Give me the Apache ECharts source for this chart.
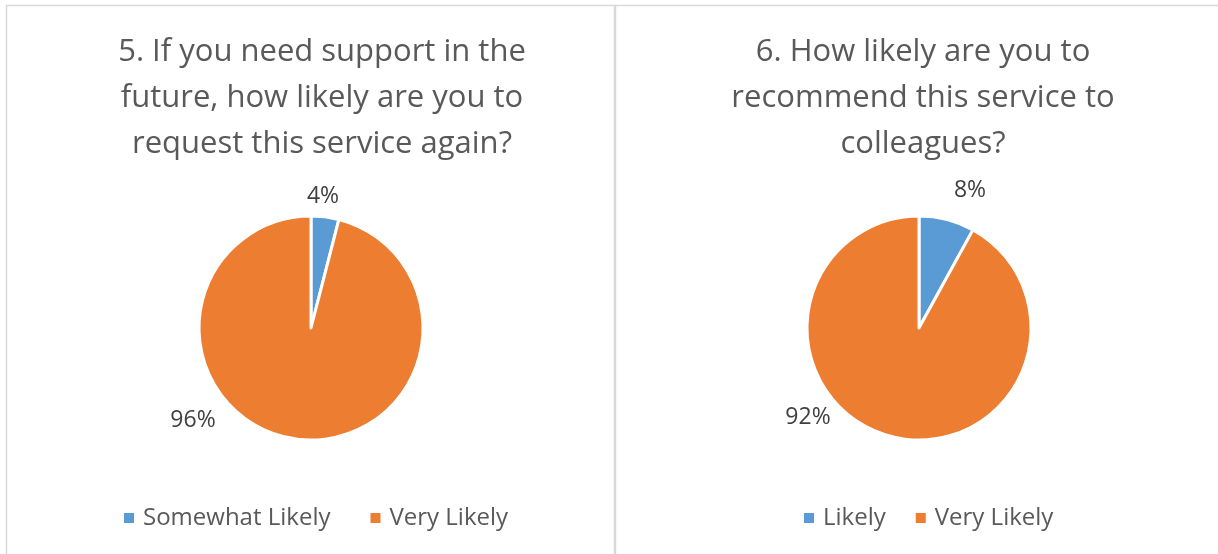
<!DOCTYPE html>
<html>
<head>
<meta charset="utf-8">
<script src="https://cdn.jsdelivr.net/npm/echarts@6/dist/echarts.min.js"></script>
<style>
  html, body { margin: 0; padding: 0; background: #fff; }
  #chart { width: 1218px; height: 554px; }
</style>
</head>
<body>
<div id="chart"></div>
<script>
// Survey answers, question 5 and question 6
const q5Title = '5. If you need support in the\nfuture, how likely are you to\nrequest this service again?';
const q5Categories = ['Somewhat Likely', 'Very Likely'];
const q5Values = [4, 96];

const q6Title = '6. How likely are you to\nrecommend this service to\ncolleagues?';
const q6Categories = ['Likely', 'Very Likely'];
const q6Values = [8, 92];

const colors = ['#5B9BD5', '#ED7D31'];
const textColor = '#595959';
const font = 'Open Sans';

// Panel geometry (pixels)
const panels = [
  { cx: 311, cy: 328, left: 6, right: 614, titleX: 317, legendLeft: 117, legendGap: 38,
    // label offsets from the pie centre, per slice
    labelOffsets: [[12, -132], [-118, 92]] },
  { cx: 919, cy: 328, left: 615, right: 1226, titleX: 918, legendLeft: 797, legendGap: 28,
    labelOffsets: [[51, -138], [-111, 89]] }
];
const radius = 112;

const chart = echarts.init(document.getElementById('chart'), null, { renderer: 'canvas' });

function pieSeries(name, cats, vals, p) {
  return {
    type: 'pie',
    name: name,
    center: [p.cx, p.cy],
    radius: [0, radius],
    startAngle: 90,
    clockwise: true,
    silent: true,
    animation: false,
    itemStyle: { borderColor: '#fff', borderWidth: 3 },
    label: {
      show: true,
      position: 'outside',
      formatter: '{c}%',
      color: '#404040',
      fontFamily: font,
      fontSize: 23
    },
    labelLine: { show: false },
    labelLayout: function (params) {
      const off = p.labelOffsets[params.dataIndex];
      return { x: p.cx + off[0], y: p.cy + off[1], align: 'center', verticalAlign: 'middle' };
    },
    data: cats.map((c, i) => ({ name: c, value: vals[i], itemStyle: { color: colors[i] } }))
  };
}

function legend(cats, p) {
  return {
    data: cats, left: p.legendLeft, top: 501, icon: 'rect',
    itemWidth: 12, itemHeight: 12, itemGap: p.legendGap, selectedMode: false,
    textStyle: { color: textColor, fontFamily: font, fontSize: 24, padding: [0, 0, 0, 3] }
  };
}

function title(text, p) {
  return {
    text: text, left: p.titleX, top: 24, textAlign: 'center',
    textStyle: { color: textColor, fontFamily: font, fontSize: 31, fontWeight: 'normal', lineHeight: 46 }
  };
}

chart.setOption({
  backgroundColor: '#fff',
  color: colors,
  graphic: panels.map(p => ({
    type: 'rect',
    silent: true,
    shape: { x: p.left + 0.5, y: 5.5, width: p.right - p.left, height: 600 },
    style: { fill: 'none', stroke: '#D9D9D9', lineWidth: 1.5 }
  })),
  title: [title(q5Title, panels[0]), title(q6Title, panels[1])],
  legend: [legend(q5Categories, panels[0]), legend(q6Categories, panels[1])],
  series: [
    pieSeries('q5', q5Categories, q5Values, panels[0]),
    pieSeries('q6', q6Categories, q6Values, panels[1])
  ]
});
</script>
</body>
</html>
